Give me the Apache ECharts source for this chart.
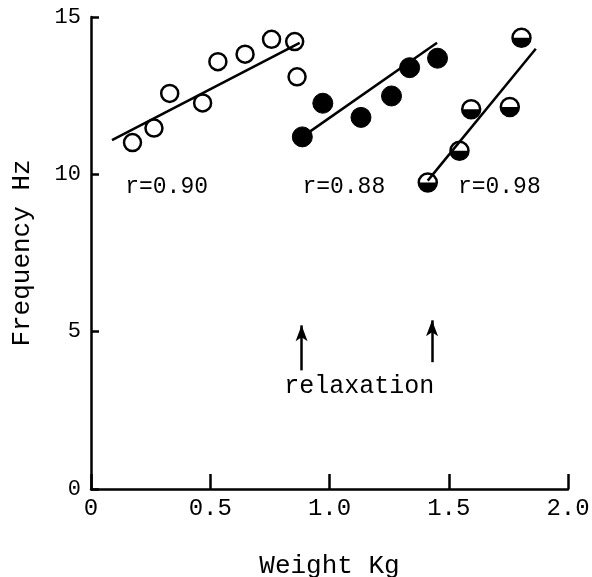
<!DOCTYPE html>
<html>
<head>
<meta charset="utf-8">
<script src="https://cdn.jsdelivr.net/npm/echarts@6/dist/echarts.min.js"></script>
<style>
  html, body { margin: 0; padding: 0; background: #fff; }
  #chart { width: 592px; height: 577px; }
</style>
</head>
<body>
<div id="chart"></div>
<script>
// open circles (before relaxation)
var openPts = [[0.174, 11.01], [0.264, 11.47], [0.33, 12.57], [0.468, 12.27], [0.532, 13.58],
               [0.646, 13.82], [0.757, 14.29], [0.854, 14.22], [0.864, 13.10]];
var openFit = [[0.088, 11.09], [0.875, 14.18]];
// filled circles (after first relaxation)
var filledPts = [[0.886, 11.19], [0.972, 12.26], [1.132, 11.81], [1.26, 12.49], [1.336, 13.39], [1.453, 13.69]];
var filledFit = [[0.886, 11.19], [1.451, 14.18]];
// half-filled circles (after second relaxation)
var halfPts = [[1.412, 9.74], [1.545, 10.75], [1.594, 12.07], [1.756, 12.14], [1.805, 14.34]];
var halfFit = [[1.412, 9.80], [1.865, 13.99]];

var rLabels = [['r=0.90', 0.317, 9.61], ['r=0.88', 1.06, 9.61], ['r=0.98', 1.712, 9.61]];
var arrowX = [0.883, 1.43];

var font = 'Liberation Mono';
var myChart = echarts.init(document.getElementById('chart'));

var option = {
    backgroundColor: '#fff',
    animation: false,
    grid: { left: 91, right: 24, top: 17, bottom: 88, containLabel: false, outerBoundsMode: 'none' },
    xAxis: {
        type: 'value',
        min: 0, max: 2, interval: 0.5,
        name: 'Weight Kg',
        nameLocation: 'middle',
        nameGap: 64,
        nameTextStyle: { fontFamily: font, fontSize: 26, color: '#000' },
        axisLine: { lineStyle: { color: '#000', width: 2.5 } },
        axisTick: { inside: true, length: 15, lineStyle: { color: '#000', width: 2.5 } },
        axisLabel: {
            fontFamily: font, fontSize: 24, color: '#000', margin: 8,
            formatter: function (v) { return v === 0 ? '0' : v.toFixed(1); }
        },
        splitLine: { show: false }
    },
    yAxis: {
        type: 'value',
        min: 0, max: 15, interval: 5,
        name: 'Frequency Hz',
        nameLocation: 'middle',
        nameGap: 56,
        nameTextStyle: { fontFamily: font, fontSize: 26, color: '#000' },
        axisLine: { show: true, lineStyle: { color: '#000', width: 2.5 } },
        axisTick: { show: true, inside: true, length: 8, lineStyle: { color: '#000', width: 2.5 } },
        axisLabel: { fontFamily: font, fontSize: 22, color: '#000', margin: 10 },
        splitLine: { show: false }
    },
    series: [
        {
            type: 'line', data: openFit, symbol: 'none',
            lineStyle: { color: '#000', width: 2.5 }
        },
        {
            type: 'line', data: filledFit, symbol: 'none',
            lineStyle: { color: '#000', width: 2.5 }
        },
        {
            type: 'line', data: halfFit, symbol: 'none',
            lineStyle: { color: '#000', width: 2.5 }
        },
        {
            type: 'scatter', data: openPts, symbol: 'circle', symbolSize: 17,
            itemStyle: { color: '#fff', borderColor: '#000', borderWidth: 2.5, opacity: 1 }
        },
        {
            type: 'scatter', data: filledPts, symbol: 'circle', symbolSize: 20,
            itemStyle: { color: '#000', borderColor: '#000', borderWidth: 1, opacity: 1 }
        },
        {
            type: 'scatter', data: halfPts, symbol: 'circle', symbolSize: 18,
            itemStyle: { color: '#fff', borderColor: '#000', borderWidth: 2.5, opacity: 1 }
        },
        {
            type: 'scatter', data: halfPts,
            symbol: 'path://M0,0 A1,1 0 0 0 2,0 Z',
            symbolSize: [18, 9], symbolOffset: [0, 4.5],
            itemStyle: { color: '#000', opacity: 1 }
        },
        {
            type: 'scatter', symbol: 'circle', symbolSize: 1, silent: true,
            itemStyle: { color: 'rgba(0,0,0,0)', opacity: 1 },
            data: rLabels.map(function (r) { return { name: r[0], value: [r[1], r[2]] }; }),
            label: {
                show: true, position: 'inside', formatter: '{b}',
                fontFamily: font, fontSize: 23, color: '#000', opacity: 1
            }
        },
        {
            type: 'scatter', symbol: 'circle', symbolSize: 1, silent: true,
            itemStyle: { color: 'rgba(0,0,0,0)', opacity: 1 },
            data: [{ name: 'relaxation', value: [1.125, 3.27] }],
            label: {
                show: true, position: 'inside', formatter: '{b}',
                fontFamily: font, fontSize: 25, color: '#000', opacity: 1
            },
            markLine: {
                silent: true,
                symbol: ['none', 'arrow'],
                symbolSize: [9, 16],
                label: { show: false },
                lineStyle: { color: '#000', width: 2.5, type: 'solid' },
                data: [
                    [{ coord: [arrowX[0], 3.77] }, { coord: [arrowX[0], 5.2] }],
                    [{ coord: [arrowX[1], 4.03] }, { coord: [arrowX[1], 5.36] }]
                ]
            }
        }
    ]
};
myChart.setOption(option);
</script>
</body>
</html>
